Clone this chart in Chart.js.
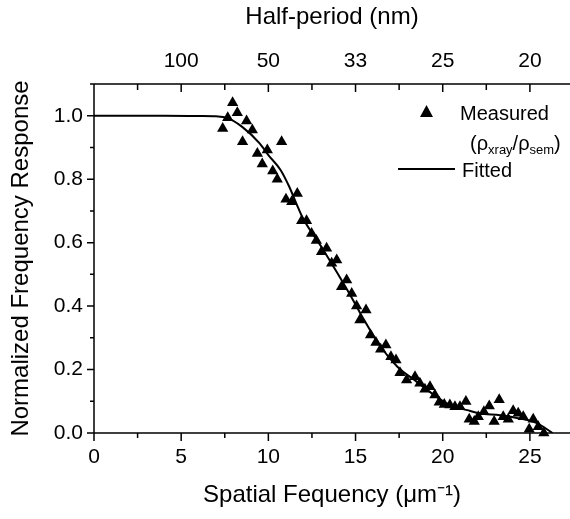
<!DOCTYPE html>
<html>
<head>
<meta charset="utf-8">
<script src="https://cdn.jsdelivr.net/npm/chart.js@4/dist/chart.umd.min.js"></script>
<style>
  html, body { margin: 0; padding: 0; background: #fff; }
  #wrap { position: relative; width: 570px; height: 519px; overflow: hidden; }
  canvas { position: absolute; left: 0; top: 0; }
  .lg { position: absolute; font-family: 'Liberation Sans', Arial, sans-serif; font-size: 20px; line-height: 20px; color: #000; white-space: nowrap; }
  .lg sub { font-size: 13px; vertical-align: -4px; line-height: 0; }
  #lgTri { position: absolute; width: 13px; height: 12px; background: #000; clip-path: polygon(50% 0, 100% 100%, 0 100%); }
  #lgLine { position: absolute; height: 2px; background: #000; }
</style>
</head>
<body>
<div id="wrap">
  <canvas id="c" width="570" height="519"></canvas>
  <div id="lgTri" style="left:420px; top:105px;"></div>
  <div class="lg" style="left:460px; top:103px;">Measured</div>
  <div class="lg" style="left:470px; top:133px;">(ρ<sub>xray</sub>/ρ<sub>sem</sub>)</div>
  <div id="lgLine" style="left:398px; top:168px; width:57px;"></div>
  <div class="lg" style="left:462px; top:160px;">Fitted</div>
</div>
<script>
// ---- data ----
const measuredX = [7.38, 7.67, 7.95, 8.22, 8.52, 8.75, 9.08, 9.37, 9.65, 9.94, 10.25, 10.51, 10.76, 11.01, 11.34, 11.66,
  11.91, 12.19, 12.48, 12.75, 13.05, 13.34, 13.63, 13.92, 14.20, 14.49, 14.78, 15.06, 15.25, 15.60, 15.86, 16.17,
  16.44, 16.74, 17.03, 17.32, 17.55, 17.93, 18.41, 18.69, 18.98, 19.27, 19.55, 19.80, 20.09, 20.41, 20.70, 20.99,
  21.33, 21.52, 21.81, 22.04, 22.36, 22.67, 22.95, 23.24, 23.47, 23.76, 24.04, 24.33, 24.62, 24.96, 25.19, 25.48, 25.80];
const measuredY = [0.960, 0.994, 1.041, 1.009, 0.918, 0.983, 0.955, 0.881, 0.848, 0.892, 0.826, 0.800, 0.918, 0.737, 0.729, 0.755,
  0.669, 0.669, 0.629, 0.607, 0.571, 0.582, 0.535, 0.545, 0.461, 0.482, 0.440, 0.400, 0.356, 0.388, 0.309, 0.285,
  0.264, 0.277, 0.240, 0.230, 0.190, 0.167, 0.177, 0.157, 0.138, 0.146, 0.120, 0.097, 0.090, 0.088, 0.083, 0.083,
  0.099, 0.043, 0.036, 0.051, 0.067, 0.085, 0.036, 0.105, 0.051, 0.043, 0.070, 0.062, 0.051, 0.012, 0.043, 0.020, 0.0];
const fitX = [0, 2, 4, 6, 7, 7.6, 8.5, 9.5, 10, 10.7, 11.2, 11.6, 12, 13, 14, 15, 15.4, 16.4, 17.4, 18.5, 19.7, 20.4, 21.4, 22.1, 23.3, 24.4, 25.4, 26.3];
const fitY = [1.0, 1.0, 1.0, 0.999, 0.998, 0.994, 0.965, 0.913, 0.876, 0.829, 0.776, 0.724, 0.675, 0.59, 0.50, 0.405, 0.365, 0.275, 0.209, 0.162, 0.112, 0.088, 0.072, 0.062, 0.056, 0.046, 0.031, 0.0];
const bottomTickValues = [0, 5, 10, 15, 20, 25];
const topTickValues = [5, 10, 15, 20, 25];
const topTickLabels = ['100', '50', '33', '25', '20'];
const yTickValues = [0, 0.2, 0.4, 0.6, 0.8, 1.0];

const FONT = "'Liberation Sans', Arial, sans-serif";
Chart.defaults.font.family = FONT;
Chart.defaults.color = '#000';

const measuredPts = measuredX.map((x, i) => ({ x: x, y: measuredY[i] }));
const fitPts = fitX.map((x, i) => ({ x: x, y: fitY[i] }));

const frameTicks = {
  id: 'frameTicks',
  beforeDatasetsDraw(chart) {
    const ctx = chart.ctx;
    const a = chart.chartArea;
    const xs = chart.scales.x, ys = chart.scales.y;
    ctx.save();
    ctx.strokeStyle = '#000';
    ctx.lineWidth = 1.5;
    ctx.beginPath();
    ctx.moveTo(a.left, a.top); ctx.lineTo(a.right, a.top);
    ctx.moveTo(a.left, a.top); ctx.lineTo(a.left, a.bottom);
    ctx.moveTo(a.left - 1, a.bottom); ctx.lineTo(a.right, a.bottom);
    // bottom ticks (outward)
    for (let v = 0; v <= xs.max + 1e-9; v += 2.5) {
      const px = xs.getPixelForValue(v);
      const major = Math.abs(v / 5 - Math.round(v / 5)) < 1e-6;
      ctx.moveTo(px, a.bottom); ctx.lineTo(px, a.bottom + (major ? 8 : 5));
    }
    // top ticks (inward)
    for (let v = 2.5; v <= xs.max + 1e-9; v += 2.5) {
      const px = xs.getPixelForValue(v);
      const major = Math.abs(v / 5 - Math.round(v / 5)) < 1e-6;
      ctx.moveTo(px, a.top); ctx.lineTo(px, a.top + (major ? 8 : 6));
    }
    // left ticks (outward)
    for (let v = 0; v <= ys.max + 1e-9; v += 0.1) {
      const py = ys.getPixelForValue(v);
      const major = Math.round(v * 10) % 2 === 0;
      ctx.moveTo(a.left, py); ctx.lineTo(a.left - (major ? 7 : 4), py);
    }
    ctx.stroke();
    ctx.restore();
  }
};

function fixH(h) {
  return s => { s.height = h; s.paddingLeft = 0; s.paddingRight = 0; };
}

new Chart(document.getElementById('c'), {
  type: 'scatter',
  data: {
    datasets: [
      {
        label: 'Fitted',
        data: fitPts,
        showLine: true,
        borderColor: '#000',
        borderWidth: 2,
        pointRadius: 0,
        pointHoverRadius: 0,
        cubicInterpolationMode: 'monotone',
        fill: false,
        order: 2
      },
      {
        label: 'Measured',
        data: measuredPts,
        pointStyle: 'triangle',
        pointRadius: 6.5,
        pointHoverRadius: 6.5,
        pointBackgroundColor: '#000',
        pointBorderColor: '#000',
        pointBorderWidth: 0,
        clip: false,
        order: 1
      }
    ]
  },
  options: {
    responsive: false,
    animation: false,
    devicePixelRatio: 1,
    layout: { padding: 0, autoPadding: false },
    plugins: { legend: { display: false }, tooltip: { enabled: false } },
    scales: {
      x: {
        type: 'linear', position: 'bottom', min: 0, max: 27.3,
        grid: { display: false, drawTicks: false },
        border: { display: false },
        afterBuildTicks: s => { s.ticks = bottomTickValues.map(v => ({ value: v })); },
        ticks: { font: { size: 21 }, padding: 12, maxRotation: 0, color: '#000', callback: v => String(v) },
        afterFit: fixH(86),
        title: { display: true, text: 'Spatial Fequency (μm⁻¹)', font: { size: 24 }, padding: { top: 0, bottom: 9 }, color: '#000' }
      },
      x2: {
        type: 'linear', position: 'top', min: 0, max: 27.3,
        grid: { display: false, drawTicks: false },
        border: { display: false },
        afterBuildTicks: s => { s.ticks = topTickValues.map(v => ({ value: v })); },
        ticks: { font: { size: 21 }, padding: 10, maxRotation: 0, color: '#000',
                 callback: v => topTickLabels[topTickValues.indexOf(v)] },
        afterFit: fixH(84),
        title: { display: true, text: 'Half-period (nm)', font: { size: 24 }, padding: { top: 3, bottom: 0 }, color: '#000' }
      },
      y: {
        type: 'linear', position: 'left', min: 0, max: 1.1,
        grid: { display: false, drawTicks: false },
        border: { display: false },
        afterBuildTicks: s => { s.ticks = yTickValues.map(v => ({ value: v })); },
        ticks: { font: { size: 21 }, padding: 11, color: '#000', callback: v => v.toFixed(1) },
        afterFit: s => { s.width = 94; },
        title: { display: true, text: 'Normalized Frequency Response', font: { size: 24 }, padding: { top: 7, bottom: 0 }, color: '#000' }
      }
    }
  },
  plugins: [frameTicks]
});
</script>
</body>
</html>
